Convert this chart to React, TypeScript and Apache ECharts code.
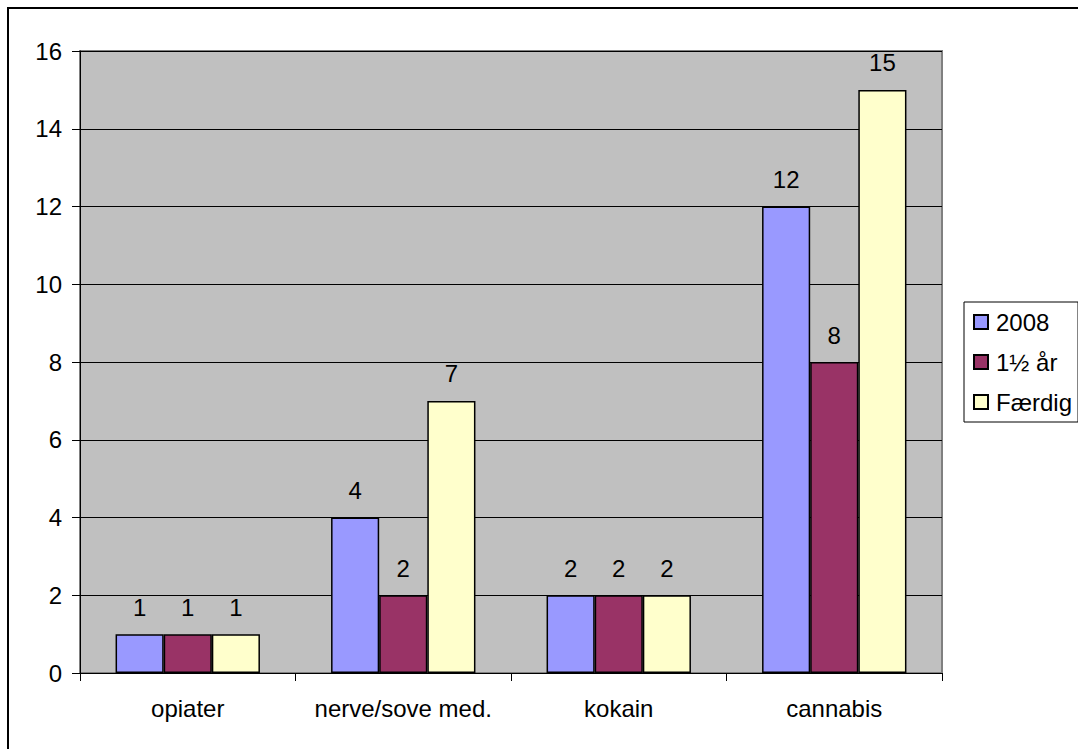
import React, { useEffect, useRef } from "react";
import * as echarts from "echarts";

const categories = ["opiater", "nerve/sove med.", "kokain", "cannabis"];
const seriesNames = ["2008", "1½ år", "Færdig"];
const values2008 = [1, 4, 2, 12];
const values15 = [1, 2, 2, 8];
const valuesFaerdig = [1, 7, 2, 15];
const colors = ["#9999FF", "#993366", "#FFFFCC"];

const FONT = "'Liberation Sans', Arial, sans-serif";
const FS = 24;

export default function App() {
  const ref = useRef<HTMLDivElement>(null);
  useEffect(() => {
    document.body.style.margin = "0";
    const chart = echarts.init(ref.current!, undefined, { renderer: "svg" });
    const allValues = [values2008, values15, valuesFaerdig];
    chart.setOption({
      animation: false,
      backgroundColor: "#ffffff",
      textStyle: { fontFamily: FONT },
      graphic: [
        {
          type: "rect",
          shape: { x: 8, y: 8, width: 1200, height: 900 },
          style: { fill: "none", stroke: "#000", lineWidth: 2 },
          z: 100,
        },
      ],
      grid: {
        left: 80,
        top: 51,
        right: 136,
        bottom: 76,
        show: true,
        backgroundColor: "#C0C0C0",
        borderColor: "#808080",
        borderWidth: 2,
      },
      legend: {
        orient: "vertical",
        left: 964,
        top: 302,
        padding: [8, 6, 8, 9],
        itemWidth: 14,
        itemHeight: 14,
        itemGap: 16,
        borderColor: "#000",
        borderWidth: 1,
        borderRadius: 0,
        backgroundColor: "#fff",
        icon: "rect",
        textStyle: { fontSize: FS, color: "#000", fontFamily: FONT, padding: [0, 0, 0, 3] },
        data: seriesNames,
      },
      xAxis: {
        type: "category",
        data: categories,
        axisLine: { lineStyle: { color: "#000", width: 1 } },
        axisTick: { show: true, interval: 0, length: 8, lineStyle: { color: "#000" } },
        axisLabel: { interval: 0, fontSize: FS, color: "#000", margin: 23, fontFamily: FONT },
      },
      yAxis: {
        type: "value",
        min: 0,
        max: 16,
        interval: 2,
        axisLine: { show: true, lineStyle: { color: "#000", width: 1 } },
        axisTick: { show: true, length: 8, lineStyle: { color: "#000" } },
        axisLabel: { fontSize: FS, color: "#000", margin: 18, fontFamily: FONT },
        splitLine: { show: true, lineStyle: { color: "#000", width: 1 } },
      },
      series: seriesNames.map((name, i) => ({
        name,
        type: "bar",
        data: allValues[i],
        barGap: "0%",
        barCategoryGap: "33%",
        itemStyle: { color: colors[i], borderColor: "#000", borderWidth: 1.5 },
        label: {
          show: true,
          position: "top",
          distance: 15,
          fontSize: FS,
          color: "#000",
          fontFamily: FONT,
        },
      })),
    });
    return () => chart.dispose();
  }, []);
  return <div ref={ref} style={{ width: 1078, height: 749 }} />;
}
